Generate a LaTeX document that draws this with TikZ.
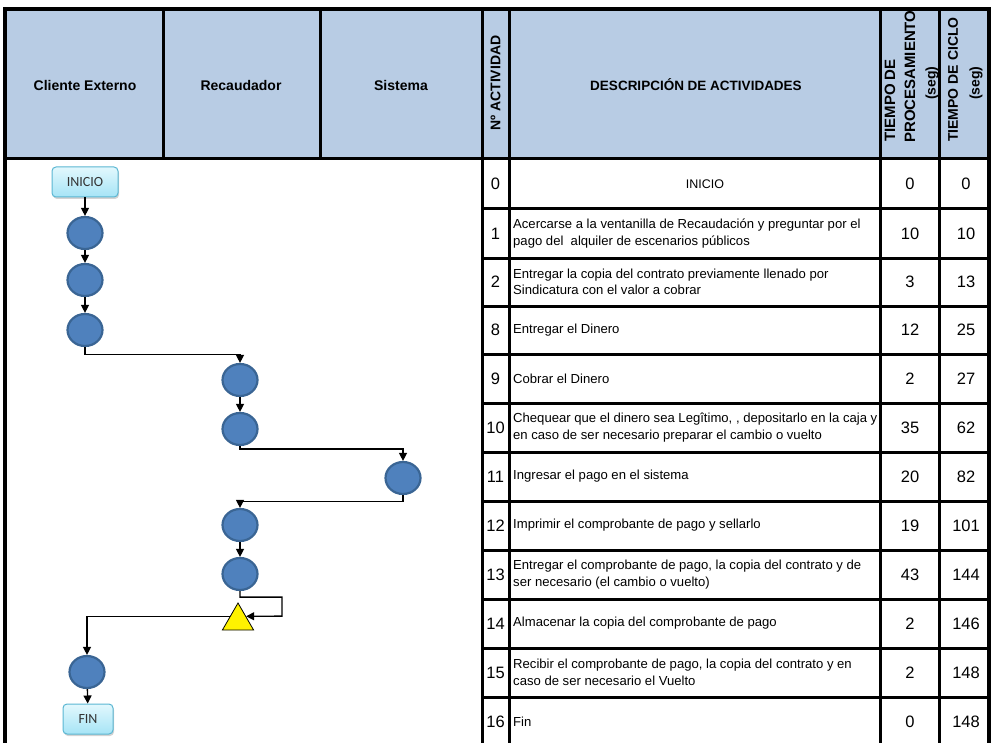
\documentclass[tikz,border=0pt]{standalone}
\usepackage{fontspec}
\setmainfont{Liberation Sans}
\newfontfamily\calibfont{Carlito}
\usetikzlibrary{shapes.geometric,arrows.meta,shadows}

\definecolor{headblue}{HTML}{B8CCE4}
\definecolor{actfill}{HTML}{4F81BD}
\definecolor{actline}{HTML}{3A6594}
\definecolor{termtop}{HTML}{E2F8FD}
\definecolor{termbot}{HTML}{A6E4F6}
\definecolor{termline}{HTML}{5AB6D2}

\begin{document}
\begin{tikzpicture}[x=1pt,y=-1pt,
  grid/.style={line width=3pt},
  head/.style={font=\fontsize{14}{16}\selectfont\bfseries},
  vhead/.style={head,rotate=90,anchor=west,inner sep=0},
  num/.style={font=\fontsize{16.5}{18}\selectfont,inner sep=0},
  desc/.style={font=\fontsize{13.1}{16.6}\selectfont,align=left,anchor=west,inner sep=0},
  act/.style={ellipse,draw=actline,fill=actfill,line width=2.2pt,minimum width=35pt,minimum height=32pt,inner sep=0},
  term/.style={rectangle,rounded corners=4pt,draw=termline,line width=1pt,top color=termtop,bottom color=termbot,
    font=\calibfont\fontsize{14}{16}\selectfont,text=black!80,minimum height=30pt,inner sep=0,
    drop shadow={shadow xshift=1pt,shadow yshift=-2pt,opacity=.35}},
  flow/.style={line width=1.3pt,-{Triangle[width=8pt,length=8pt]}}]

\useasboundingbox (0,0) rectangle (992,743);

\fill [headblue] (5,9) rectangle (989,159);

\draw [grid] (163,9) -- (163,159);
\draw [grid] (320,9) -- (320,159);
\draw [grid] (5,159) -- (989,159);
\draw [grid] (482,9) -- (482,746);
\draw [grid] (509,9) -- (509,746);
\draw [grid] (880,9) -- (880,746);
\draw [grid] (939,9) -- (939,746);

\draw [grid] (482,209) -- (989,209);
\draw [grid] (482,258) -- (989,258);
\draw [grid] (482,306) -- (989,306);
\draw [grid] (482,354) -- (989,354);
\draw [grid] (482,403) -- (989,403);
\draw [grid] (482,452) -- (989,452);
\draw [grid] (482,501) -- (989,501);
\draw [grid] (482,550) -- (989,550);
\draw [grid] (482,599) -- (989,599);
\draw [grid] (482,648) -- (989,648);
\draw [grid] (482,697) -- (989,697);

\draw [line width=3.5pt] (5,746) -- (5,9) -- (989,9) -- (989,746);

\node[head] (hcli) at (85,85) {Cliente Externo};
\node[head] (hrec) at (241,85) {Recaudador};
\node[head] (hsis) at (401,85) {Sistema};
\node[head,font=\fontsize{13.5}{16}\selectfont\bfseries] (hdesc) at (696,85) {DESCRIPCIÓN DE ACTIVIDADES};
\node[vhead] (hnum) at (495.5,131) {Nº ACTIVIDAD};
\node[vhead,font=\fontsize{15}{16}\selectfont\bfseries] (hproc1) at (890,142) {TIEMPO DE};
\node[vhead,font=\fontsize{15}{16}\selectfont\bfseries] (hproc2) at (910,143) {PROCESAMIENTO};
\node[vhead] (hproc3) at (932,100) {(seg)};
\node[vhead] (hcic1) at (953,142) {TIEMPO DE CICLO};
\node[vhead] (hcic2) at (976,100) {(seg)};

\node[num] (n0) at (495.5,184) {0};
\node[font=\fontsize{12.5}{16}\selectfont] (d0) at (705,184) {INICIO};
\node[num] (p0) at (910,184) {0};
\node[num] (t0) at (966,184) {0};

\node[num] (n1) at (495.5,233.5) {1};
\node[desc] (d1) at (513,233.5) {Acercarse a la ventanilla de Recaudación y preguntar por el\\pago del\ \ alquiler de escenarios públicos};
\node[num] (p1) at (910,233.5) {10};
\node[num] (t1) at (966,233.5) {10};

\node[num] (n2) at (495.5,282) {2};
\node[desc] (d2) at (513,282) {Entregar la copia del contrato previamente llenado por\\Sindicatura con el valor a cobrar};
\node[num] (p2) at (910,282) {3};
\node[num] (t2) at (966,282) {13};

\node[num] (n8) at (495.5,330) {8};
\node[desc] (d8) at (513,330) {Entregar el Dinero};
\node[num] (p8) at (910,330) {12};
\node[num] (t8) at (966,330) {25};

\node[num] (n9) at (495.5,378.5) {9};
\node[desc] (d9) at (513,378.5) {Cobrar el Dinero};
\node[num] (p9) at (910,378.5) {2};
\node[num] (t9) at (966,378.5) {27};

\node[num] (n10) at (495.5,427.5) {10};
\node[desc] (d10) at (513,427.5) {Chequear que el dinero sea Legîtimo, , depositarlo en la caja y\\en caso de ser necesario preparar el cambio o vuelto};
\node[num] (p10) at (910,427.5) {35};
\node[num] (t10) at (966,427.5) {62};

\node[num] (n11) at (495.5,476.5) {11};
\node[desc] (d11) at (513,476.5) {Ingresar el pago en el sistema};
\node[num] (p11) at (910,476.5) {20};
\node[num] (t11) at (966,476.5) {82};

\node[num] (n12) at (495.5,525.5) {12};
\node[desc] (d12) at (513,525.5) {Imprimir el comprobante de pago y sellarlo};
\node[num] (p12) at (910,525.5) {19};
\node[num] (t12) at (966,525.5) {101};

\node[num] (n13) at (495.5,574.5) {13};
\node[desc] (d13) at (513,574.5) {Entregar el comprobante de pago, la copia del contrato y de\\ser necesario (el cambio o vuelto)};
\node[num] (p13) at (910,574.5) {43};
\node[num] (t13) at (966,574.5) {144};

\node[num] (n14) at (495.5,623.5) {14};
\node[desc] (d14) at (513,623.5) {Almacenar la copia del comprobante de pago};
\node[num] (p14) at (910,623.5) {2};
\node[num] (t14) at (966,623.5) {146};

\node[num] (n15) at (495.5,672.5) {15};
\node[desc] (d15) at (513,672.5) {Recibir el comprobante de pago, la copia del contrato y en\\caso de ser necesario el Vuelto};
\node[num] (p15) at (910,672.5) {2};
\node[num] (t15) at (966,672.5) {148};

\node[num] (n16) at (495.5,721.5) {16};
\node[desc] (d16) at (513,721.5) {Fin};
\node[num] (p16) at (910,721.5) {0};
\node[num] (t16) at (966,721.5) {148};

\node[term,minimum width=66pt] (ini) at (85,182) {INICIO};
\node[act] (c1) at (85,233) {};
\node[act] (c2) at (85,280) {};
\node[act] (c3) at (85,330) {};
\node[act] (c4) at (240,380) {};
\node[act] (c5) at (240,429) {};
\node[act] (c6) at (403,478) {};
\node[act] (c7) at (240,525) {};
\node[act] (c8) at (240,574) {};
\node[regular polygon,regular polygon sides=3,minimum size=36pt,inner sep=0,draw,fill=yellow,line width=.8pt] (tri) at (238,621) {};
\node[act] (c9) at (87,672) {};
\node[term,minimum width=50pt] (fin) at (88,719) {FIN};

\draw [flow] (ini) -- (c1);
\draw [flow] (c1) -- (c2);
\draw [flow] (c2) -- (c3);
\draw [flow] (c3.south) -- ++(0,7.5) -| (c4.north);
\draw [flow] (c4) -- (c5);
\draw [flow] (c5.south) -- ++(0,3) -| (c6.north);
\draw [flow] (c6.south) -- ++(0,6.5) -| (c7.north);
\draw [flow] (c7) -- (c8);
\draw [flow] (c8.south) -- ++(0,6) -| ++(42,19) -- (tri.side 3);
\draw [flow] (tri.side 1) -| (c9.north);
\draw [flow] (c9) -- (fin);

\end{tikzpicture}
\end{document}
